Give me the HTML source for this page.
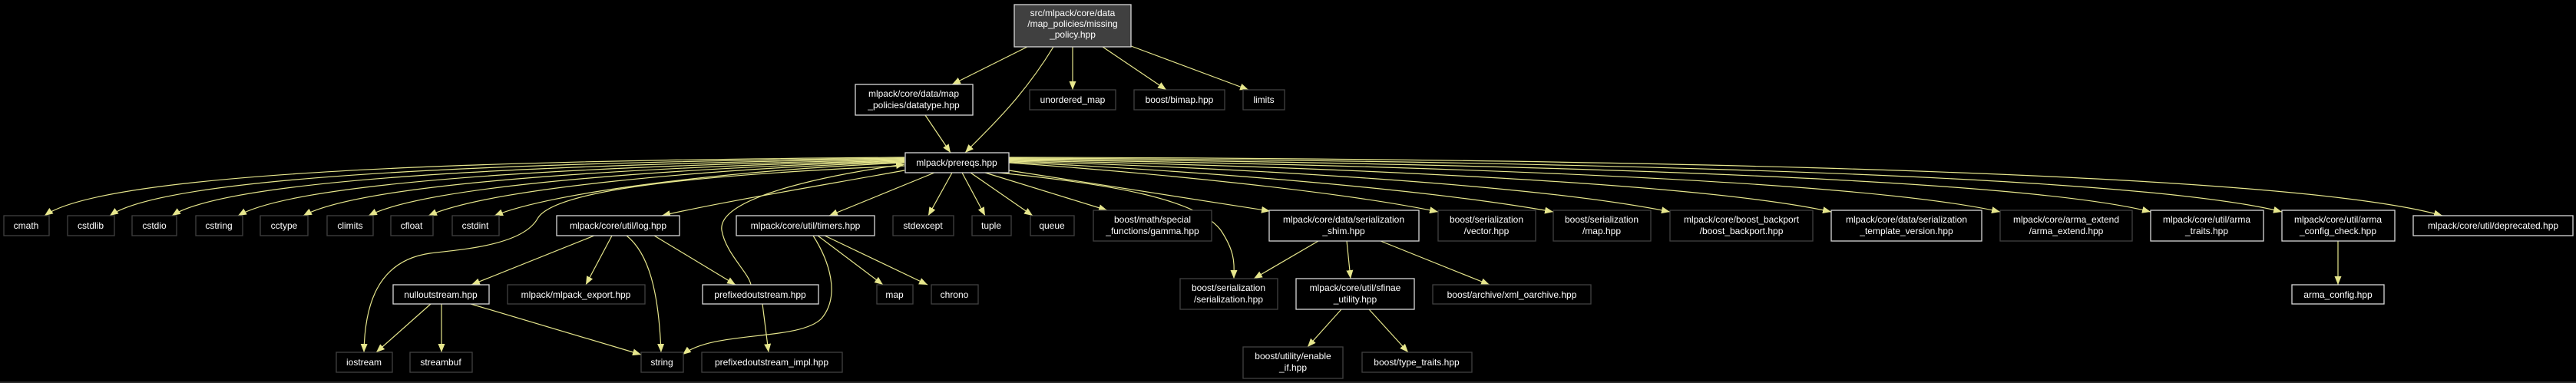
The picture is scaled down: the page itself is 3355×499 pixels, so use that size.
<!DOCTYPE html>
<html><head><meta charset="utf-8"><style>
html,body{margin:0;padding:0;background:#000;}
svg{display:block;}
text{font-family:"Liberation Sans",sans-serif;font-size:12px;fill:#fff;text-anchor:middle;}
.e{fill:none;stroke:#e6e68c;stroke-width:1.2;marker-end:url(#a);}
.d{fill:#000;stroke:#d8d8d8;stroke-width:1.3;}
.x{fill:#000;stroke:#404040;stroke-width:1.3;}
</style></head><body>
<svg width="3355" height="499" viewBox="0 0 3355 499" xmlns="http://www.w3.org/2000/svg">
<defs><marker id="a" markerUnits="userSpaceOnUse" markerWidth="11" markerHeight="9" refX="11" refY="4.5" orient="auto"><path d="M0,0 L11,4.5 L0,9 z" fill="#e6e68c"/></marker></defs>
<line x1="0" y1="498" x2="3355" y2="498" stroke="#555"/>
<!-- edges -->
<path class="e" d="M1338,61 L1240,110"/>
<path class="e" d="M1372,61 C1330,130 1285,170 1257,199"/>
<path class="e" d="M1397,61 L1397,117"/>
<path class="e" d="M1436,61 L1519,117"/>
<path class="e" d="M1473,60 L1626,117"/>
<path class="e" d="M1205,150 L1238,199"/>
<!-- left fan -->
<path class="e" d="M1178,205 C800,208 150,215 58,281"/>
<path class="e" d="M1178,206 C820,210 230,220 143,281"/>
<path class="e" d="M1178,207 C840,212 310,225 224,281"/>
<path class="e" d="M1178,208 C860,214 400,230 310,281"/>
<path class="e" d="M1178,209 C880,216 480,235 395,281"/>
<path class="e" d="M1178,210 C900,218 560,240 480,281"/>
<path class="e" d="M1178,211 C920,220 640,245 558,281"/>
<path class="e" d="M1178,212 C950,222 720,250 644,281"/>
<path class="e" d="M1178,222 C1050,245 930,265 862,281"/>
<path class="e" d="M1178,216 C900,228 720,248 700,285 C680,320 600,325 560,330 C490,340 475,400 474,459"/>
<path class="e" d="M978,371 C975,355 945,330 940,300 C935,265 1030,235 1178,214"/>
<!-- down from prereqs -->
<path class="e" d="M1217,225 L1080,281"/>
<path class="e" d="M1240,225 L1209,281"/>
<path class="e" d="M1253,225 L1283,281"/>
<path class="e" d="M1264,225 L1345,281"/>
<path class="e" d="M1283,225 L1442,274"/>
<path class="e" d="M1314,222 L1654,275"/>
<path class="e" d="M1300,225 C1450,240 1560,260 1590,300 C1610,330 1607,345 1607,363"/>
<!-- right fan -->
<path class="e" d="M1314,212 C1500,225 1750,250 1873,276"/>
<path class="e" d="M1314,211 C1550,222 1850,245 2023,276"/>
<path class="e" d="M1314,210 C1600,218 2000,240 2175,276"/>
<path class="e" d="M1314,209 C1650,215 2200,235 2385,276"/>
<path class="e" d="M1314,208 C1700,212 2400,230 2605,276"/>
<path class="e" d="M1314,207 C1750,210 2600,225 2801,276"/>
<path class="e" d="M1314,206 C1800,208 2750,220 2972,276"/>
<path class="e" d="M1314,205 C1850,206 2950,215 3181,281"/>
<!-- log -->
<path class="e" d="M852,307 L958,371"/>
<path class="e" d="M774,307 L614,371"/>
<path class="e" d="M797,307 L763,371"/>
<path class="e" d="M816,307 C845,330 858,380 861,459"/>
<!-- timers -->
<path class="e" d="M1059,307 C1080,340 1095,385 1070,415 C1040,445 930,430 889,462"/>
<path class="e" d="M1065,307 L1150,371"/>
<path class="e" d="M1074,307 L1208,371"/>
<!-- nulloutstream -->
<path class="e" d="M561,396 L490,459"/>
<path class="e" d="M575,396 L575,459"/>
<path class="e" d="M613,396 L835,462"/>
<path class="e" d="M993,396 L1001,459"/>
<!-- shim -->
<path class="e" d="M1717,314 L1633,363"/>
<path class="e" d="M1754,314 L1759,363"/>
<path class="e" d="M1798,314 L1940,371"/>
<path class="e" d="M1747,403 L1703,452"/>
<path class="e" d="M1783,403 L1834,459"/>
<path class="e" d="M3045,314 L3045,371"/>
<!-- nodes -->
<rect x="1321" y="6" width="152" height="55" fill="#404040" stroke="#d8d8d8" stroke-width="1.3"/>
<text x="1397" y="21">src/mlpack/core/data</text><text x="1397" y="35">/map_policies/missing</text><text x="1397" y="49">_policy.hpp</text>
<rect class="d" x="1114" y="110" width="153" height="40"/><text x="1190" y="126">mlpack/core/data/map</text><text x="1190" y="141">_policies/datatype.hpp</text>
<rect class="x" x="1341" y="117" width="112" height="26"/><text x="1397" y="134">unordered_map</text>
<rect class="x" x="1477" y="117" width="118" height="26"/><text x="1536" y="134">boost/bimap.hpp</text>
<rect class="x" x="1619" y="117" width="54" height="26"/><text x="1646" y="134">limits</text>
<rect class="d" x="1179" y="199" width="135" height="26"/><text x="1246" y="216">mlpack/prereqs.hpp</text>

<rect class="x" x="5" y="281" width="59" height="26"/><text x="34" y="298">cmath</text>
<rect class="x" x="88" y="281" width="61" height="26"/><text x="118" y="298">cstdlib</text>
<rect class="x" x="172" y="281" width="58" height="26"/><text x="201" y="298">cstdio</text>
<rect class="x" x="255" y="281" width="61" height="26"/><text x="285" y="298">cstring</text>
<rect class="x" x="339" y="281" width="62" height="26"/><text x="370" y="298">cctype</text>
<rect class="x" x="426" y="281" width="60" height="26"/><text x="456" y="298">climits</text>
<rect class="x" x="509" y="281" width="55" height="26"/><text x="536" y="298">cfloat</text>
<rect class="x" x="589" y="281" width="61" height="26"/><text x="619" y="298">cstdint</text>
<rect class="d" x="725" y="281" width="160" height="26"/><text x="805" y="298">mlpack/core/util/log.hpp</text>
<rect class="d" x="959" y="281" width="180" height="26"/><text x="1049" y="298">mlpack/core/util/timers.hpp</text>
<rect class="x" x="1163" y="281" width="79" height="26"/><text x="1202" y="298">stdexcept</text>
<rect class="x" x="1266" y="281" width="51" height="26"/><text x="1291" y="298">tuple</text>
<rect class="x" x="1342" y="281" width="57" height="26"/><text x="1370" y="298">queue</text>
<rect class="x" x="1424" y="274" width="154" height="40"/><text x="1501" y="290">boost/math/special</text><text x="1501" y="305">_functions/gamma.hpp</text>
<rect class="d" x="1653" y="274" width="195" height="40"/><text x="1750" y="290">mlpack/core/data/serialization</text><text x="1750" y="305">_shim.hpp</text>
<rect class="x" x="1873" y="274" width="127" height="40"/><text x="1936" y="290">boost/serialization</text><text x="1936" y="305">/vector.hpp</text>
<rect class="x" x="2023" y="274" width="127" height="40"/><text x="2086" y="290">boost/serialization</text><text x="2086" y="305">/map.hpp</text>
<rect class="x" x="2175" y="274" width="186" height="40"/><text x="2268" y="290">mlpack/core/boost_backport</text><text x="2268" y="305">/boost_backport.hpp</text>
<rect class="d" x="2385" y="274" width="196" height="40"/><text x="2483" y="290">mlpack/core/data/serialization</text><text x="2483" y="305">_template_version.hpp</text>
<rect class="x" x="2605" y="274" width="172" height="40"/><text x="2691" y="290">mlpack/core/arma_extend</text><text x="2691" y="305">/arma_extend.hpp</text>
<rect class="d" x="2801" y="274" width="147" height="40"/><text x="2874" y="290">mlpack/core/util/arma</text><text x="2874" y="305">_traits.hpp</text>
<rect class="d" x="2972" y="274" width="147" height="40"/><text x="3045" y="290">mlpack/core/util/arma</text><text x="3045" y="305">_config_check.hpp</text>
<rect class="d" x="3143" y="281" width="208" height="26"/><text x="3247" y="298">mlpack/core/util/deprecated.hpp</text>

<rect class="d" x="512" y="371" width="125" height="25"/><text x="574" y="388">nulloutstream.hpp</text>
<rect class="x" x="661" y="371" width="179" height="25"/><text x="750" y="388">mlpack/mlpack_export.hpp</text>
<rect class="d" x="915" y="371" width="151" height="25"/><text x="990" y="388">prefixedoutstream.hpp</text>
<rect class="x" x="1142" y="371" width="47" height="25"/><text x="1165" y="388">map</text>
<rect class="x" x="1213" y="371" width="61" height="25"/><text x="1243" y="388">chrono</text>
<rect class="x" x="1537" y="363" width="127" height="40"/><text x="1600" y="379">boost/serialization</text><text x="1600" y="394">/serialization.hpp</text>
<rect class="d" x="1688" y="363" width="154" height="40"/><text x="1765" y="379">mlpack/core/util/sfinae</text><text x="1765" y="394">_utility.hpp</text>
<rect class="x" x="1866" y="371" width="206" height="25"/><text x="1969" y="388">boost/archive/xml_oarchive.hpp</text>
<rect class="d" x="2985" y="371" width="120" height="25"/><text x="3045" y="388">arma_config.hpp</text>

<rect class="x" x="438" y="459" width="73" height="26"/><text x="474" y="476">iostream</text>
<rect class="x" x="534" y="459" width="81" height="26"/><text x="574" y="476">streambuf</text>
<rect class="x" x="835" y="459" width="55" height="26"/><text x="862" y="476">string</text>
<rect class="x" x="914" y="459" width="183" height="26"/><text x="1005" y="476">prefixedoutstream_impl.hpp</text>
<rect class="x" x="1619" y="452" width="130" height="41"/><text x="1684" y="468">boost/utility/enable</text><text x="1684" y="483">_if.hpp</text>
<rect class="x" x="1774" y="459" width="143" height="26"/><text x="1845" y="476">boost/type_traits.hpp</text>
</svg>
</body></html>
